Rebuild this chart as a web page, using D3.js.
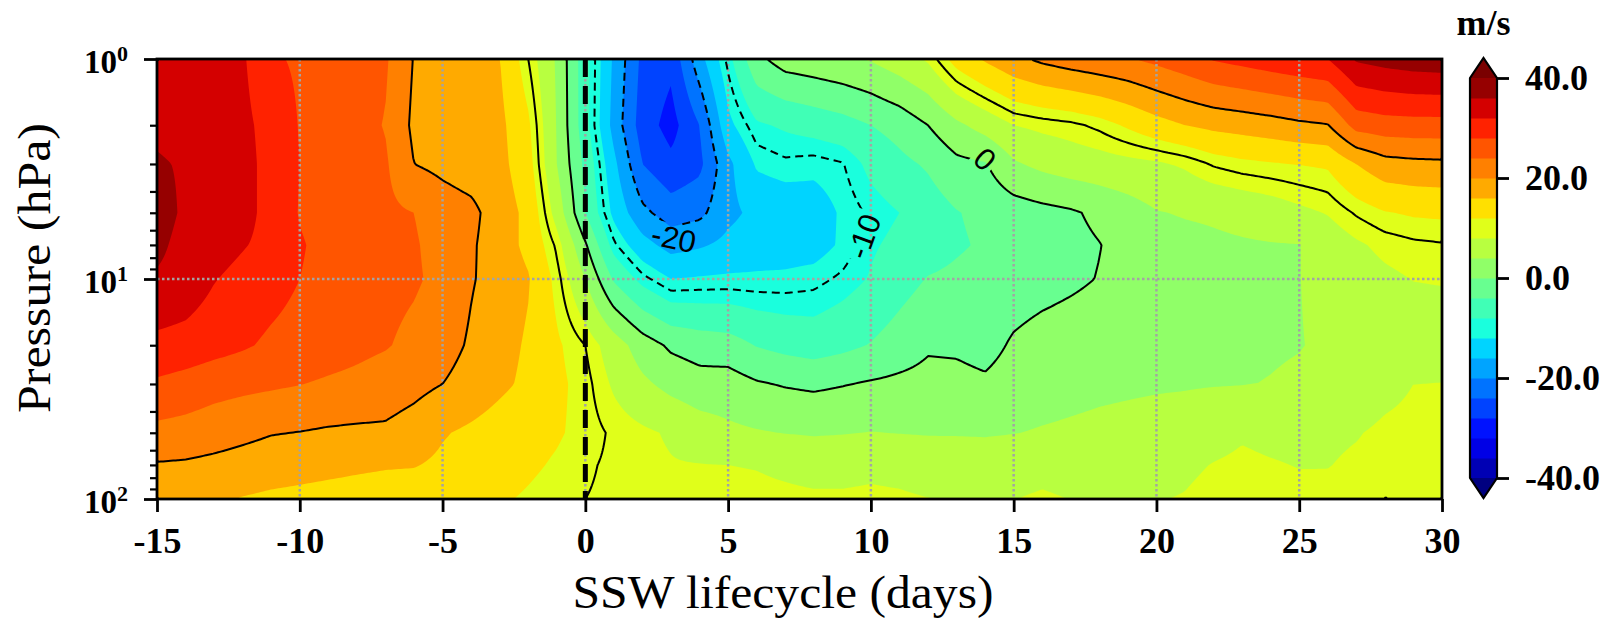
<!DOCTYPE html>
<html>
<head>
<meta charset="utf-8">
<script src="https://cdn.jsdelivr.net/npm/d3@7"></script>
<style>
  body { margin: 0; background: #fff; }
  svg { display: block; }
</style>
</head>
<body>
<svg id="chart" width="1612" height="622"></svg>
<script>
// zonal-mean zonal wind composite (m/s) over the SSW lifecycle

// grid: lag in days, pressure in hPa
var days = [-15,-14,-13,-12,-11,-10,-9,-8,-7,-6,-5,-4,-3,-2,-1,0,1,2,3,4,5,6,7,8,9,10,11,12,13,14,15,16,17,18,19,20,21,22,23,24,25,26,27,28,29,30];
var levels = [1, 2, 3, 5, 7, 10, 20, 30, 50, 70, 100];

// one row of wind values per pressure level
var u1   = [34.5,34,33.5,32.5,28.5,27.5,26.5,25.5,24.5,19.8, 18.8,17.6,16.1,10,3.5,-6.5,-16.7,-25,-27,-17.5, -9.2,-1.0,1.8,2.5,3.3,4.3,6.2,8.5,13.5,16.5, 19,20.8,22,22.9,23.7,25,26.5,28.3,29.3,30.3, 31.2,32,36.5,37.5,38.2,38.5];
var u2   = [35,34.5,34,33,30.5,27.8,26.5,25.3,23.8,19.2, 18.6,17.8,17,12.6,3.8,-6.5,-17.5,-26,-29.5,-24, -13,-8.5,-7.5,-6.5,-5.5,-4,-2.5,0,3.2,5.5, 8,8.8,9.4,10.6,12.5,14.5,16,17,17.6,18.3, 19.2,19.8,25.5,26.3,26.5,26.5];
var u3   = [36.5,35.5,34.8,33.5,30.5,28,26.5,25.5,24.5,20, 19,18,17.2,13.5,4,-5,-15,-24,-27,-25, -17,-11.5,-10.5,-11,-10.2,-7,-5,-3.5,-1,-0.3, 3.5,5,6,6.5,7,7.5,8.5,10.3,11.2,11.7, 12.1,12.5,16,18.5,19,19.2];
var u5   = [38,35.2,34.5,33.5,30.5,27.8,26.5,25.6,24.8,24, 22,21,18,15,6.5,-4,-13,-19,-22,-21, -17,-15,-14.5,-14,-11.5,-9.5,-8,-6,-4.2,-3, -2,-1.2,-0.5,0.8,2.2,3.8,4.3,4.6,5.2,6, 7.2,8.2,10.3,11.8,12.4,12.6];
var u7   = [37,34.5,33.7,32.3,30.8,28.3,27,26,25.2,24.4, 22.5,20.5,18,15,9.5,0.5,-9.5,-14.5,-17.5,-16.5, -15,-14,-13.8,-13.5,-11.5,-8.5,-7,-5.8,-4.5,-3.5, -2.8,-2,-1,-0.1,1.2,2.3,2.8,3.3,3.6,3.8, 3.9,5.8,7.5,8.8,9.5,9.8];
var u10  = [35.5,34.5,32.2,30.8,29.5,28,27,26,25.2,24.5, 23,20.3,18.5,16.3,11,4,-4.5,-9.2,-12,-11.6, -11.4,-11.4,-11.3,-10.8,-9.5,-7.7,-5.6,-3.8,-3.2,-2.6, -2,-1.4,-0.7,0.15,1.2,2.2,3,3.5,3.8,3.9, 3.95,4.8,6.3,7.3,8.1,8.3];
var u20  = [31,30.5,29.5,28.5,27.3,26.5,25.8,25,24.3,23, 21.5,19.5,17.5,15.5,12.5,10,6,2,-0.7,-1.8, -2.3,-4.2,-5.2,-5.9,-5,-3.8,-2.2,-0.5,-0.6,-1.3, 0.5,1.5,2,2.3,2.7,3,3.2,3.4,3.5,3.7, 3.9,4.4,5,5.3,5.5,5.5];
var u30  = [27.4,26.5,25.5,25,24.6,24.1,23.5,23,22.2,21.2, 20,18.5,16.8,15.2,12.8,10.8,7.5,4.8,2.8,1.6, 1.8,0.4,-0.3,-0.7,-0.2,0.4,0.9,1.3,1.1,0.6, 1.6,2.3,2.8,3.2,3.4,3.6,3.7,3.8,3.9,4.1, 4.4,5,5.8,7,8,8.1];
var u50  = [22.9,22.5,21.8,21,20.2,19.9,19.5,19.3,19.3,18.2, 16.3,15.3,14.2,13.3,12.4,11,9.6,8.6,7.6,6, 4.8,4.3,3.9,3.6,3.8,4.1,3.9,3.7,3.7,3.6, 3.9,4.3,4.6,4.9,5.2,5.5,5.8,7,7.7,7.3, 7.2,7.4,7.8,8.6,8.9,9];
var u70  = [19.7,19.5,19,18.4,17.8,17.4,17,16.6,16.3,16.2, 15.3,14.5,13.6,12.6,11.6,10.3,9.6,8.8,8.2,8.1, 8,7.9,7.6,7.3,7.3,7.5,7.3,6.9,6.6,6.5, 6.6,7,6.7,6.6,6.7,6.9,7.5,8.1,8.5,8.2, 7.9,7.9,8.5,9,9.2,9.3];
var u100 = [18.3,17.5,16.6,15.8,15.3,15,14.7,14.5,14.3,14, 13.6,13.1,12.4,11.6,10.7,10,9.6,9.3,9,8.8, 8.6,8.5,8.4,8.3,8.3,8.4,8.3,8.05,7.85,7.8, 7.95,8.4,7.95,7.8,7.8,7.9,8.15,8.8,9.2,9.2, 8.7,8.8,9.6,10.05,9.8,9.6];

// shading and contour settings
var shadeLevels = [-40,-36,-32,-28,-24,-20,-16,-12,-8,-4,0,4,8,12,16,20,24,28,32,36,40];
var shadeColors = ["#000080","#0000b4","#0000e6","#0012ff","#0043ff","#0073ff","#00a4ff","#00d4ff",
                   "#1affdd","#40ffb6","#68ff90","#90ff68","#b8ff40","#e0ff1a","#ffe000","#ffaa00",
                   "#ff8000","#ff5500","#ff2200","#d40000","#960000","#7a0000"];
var lineLevels = [-20, -10, 0, 10, 20];
var lineLabels = [
  { text: "0",   day: 14.0, p: 2.85, angle: 43 },
  { text: "-10", day: 9.75, p: 6.4,  angle: -70 },
  { text: "-20", day: 3.1,  p: 6.5,  angle: 12 }
];
var onsetDay = 0;

var xTicks = [-15, -10, -5, 0, 5, 10, 15, 20, 25, 30];
var yTicks = [1, 10, 100];
var yTickExp = ["0", "1", "2"];
var yMinorTicks = [2,3,4,5,6,7,8,9,20,30,40,50,60,70,80,90];
var cbTicks = [-40, -20, 0, 20, 40];
var cbUnits = "m/s";
var xTitle = "SSW lifecycle (days)";
var yTitle = "Pressure (hPa)";

var rows = [u1, u2, u3, u5, u7, u10, u20, u30, u50, u70, u100];

var svg = d3.select("#chart");
var plot = { left: 157, right: 1442, top: 59, bottom: 499 };
var serif = '"Liberation Serif", "Times New Roman", Times, serif';

var x = d3.scaleLinear().domain([days[0], days[days.length - 1]]).range([plot.left, plot.right]);
var y = d3.scaleLog().domain([levels[0], levels[levels.length - 1]]).range([plot.top, plot.bottom]);

// bilinear lookup in (day, log p)
var logLev = levels.map(Math.log10);
function windAt(day, lp) {
  var fi = (day - days[0]) / (days[1] - days[0]);
  var i0 = Math.max(0, Math.min(days.length - 2, Math.floor(fi)));
  var tx = Math.max(0, Math.min(1, fi - i0));
  var j0 = Math.max(0, Math.min(levels.length - 2, d3.bisectRight(logLev, lp) - 1));
  var ty = Math.max(0, Math.min(1, (lp - logLev[j0]) / (logLev[j0 + 1] - logLev[j0])));
  var a = rows[j0], b = rows[j0 + 1];
  var top = a[i0] * (1 - tx) + a[i0 + 1] * tx;
  var bot = b[i0] * (1 - tx) + b[i0 + 1] * tx;
  return top * (1 - ty) + bot * ty;
}

// resample onto a fine pixel grid so d3.contours can do the work
var step = 2.5;
var nx = Math.round((plot.right - plot.left) / step);
var ny = Math.round((plot.bottom - plot.top) / step);
var sx = (plot.right - plot.left) / nx, sy = (plot.bottom - plot.top) / ny;
var grid = new Float64Array(nx * ny);
for (var j = 0; j < ny; j++) {
  var lp = Math.log10(y.invert(plot.top + (j + 0.5) * sy));
  for (var i = 0; i < nx; i++) {
    grid[j * nx + i] = windAt(x.invert(plot.left + (i + 0.5) * sx), lp);
  }
}

var toScreen = d3.geoTransform({
  point: function(px, py) { this.stream.point(plot.left + px * sx, plot.top + py * sy); }
});
var path = d3.geoPath(toScreen);

var defs = svg.append("defs");
defs.append("clipPath").attr("id", "plot-clip")
  .append("rect")
    .attr("x", plot.left).attr("y", plot.top)
    .attr("width", plot.right - plot.left).attr("height", plot.bottom - plot.top);

var g = svg.append("g").attr("clip-path", "url(#plot-clip)");

// filled contours
g.append("rect")
  .attr("x", plot.left).attr("y", plot.top)
  .attr("width", plot.right - plot.left).attr("height", plot.bottom - plot.top)
  .attr("fill", shadeColors[0]);

var fills = d3.contours().size([nx, ny]).thresholds(shadeLevels)(grid);
g.selectAll("path.fill")
  .data(fills)
  .enter().append("path")
    .attr("class", "fill")
    .attr("d", path)
    .attr("fill", function(d, i) { return shadeColors[i + 1]; });

// dotted grid
var gridStyle = function(sel) {
  sel.attr("stroke", "#a4a4a4").attr("stroke-width", 2.5).attr("stroke-dasharray", "2.5,2.5");
};
g.selectAll("line.vgrid")
  .data(xTicks.slice(1, -1))
  .enter().append("line")
    .attr("class", "vgrid")
    .attr("x1", function(d) { return x(d); }).attr("x2", function(d) { return x(d); })
    .attr("y1", plot.top).attr("y2", plot.bottom)
    .call(gridStyle);
g.selectAll("line.hgrid")
  .data(yTicks.slice(1, -1))
  .enter().append("line")
    .attr("class", "hgrid")
    .attr("y1", function(d) { return y(d); }).attr("y2", function(d) { return y(d); })
    .attr("x1", plot.left).attr("x2", plot.right)
    .call(gridStyle);

// contour labels (and a mask to break the lines under them)
var mask = defs.append("mask").attr("id", "label-mask")
  .attr("maskUnits", "userSpaceOnUse").attr("x", 0).attr("y", 0).attr("width", 1612).attr("height", 622);
mask.append("rect").attr("width", 1612).attr("height", 622).attr("fill", "#fff");

var lineG = g.append("g").attr("mask", "url(#label-mask)");
var labelG = g.append("g");

var lines = d3.contours().size([nx, ny]).thresholds(lineLevels)(grid);
lineG.selectAll("path")
  .data(lines)
  .enter().append("path")
    .attr("d", path)
    .attr("fill", "none")
    .attr("stroke", "#000")
    .attr("stroke-width", 2)
    .attr("stroke-linejoin", "round")
    .attr("stroke-dasharray", function(d) { return d.value < 0 ? "8,5" : null; });

lineLabels.forEach(function(l) {
  var tr = "translate(" + x(l.day) + "," + y(l.p) + ") rotate(" + l.angle + ")";
  var t = labelG.append("text")
    .attr("transform", tr)
    .attr("text-anchor", "middle")
    .attr("dy", "0.36em")
    .style("font-family", '"Liberation Sans", Arial, Helvetica, sans-serif')
    .style("font-size", "31px")
    .text(l.text);
  var len = t.node().getComputedTextLength();
  mask.append("rect")
    .attr("transform", tr)
    .attr("x", -len / 2 - 3).attr("y", -14)
    .attr("width", len + 6).attr("height", 28)
    .attr("fill", "#000");
});

// SSW onset marker
g.append("line")
  .attr("x1", x(onsetDay)).attr("x2", x(onsetDay))
  .attr("y1", plot.top).attr("y2", plot.bottom)
  .attr("stroke", "#000").attr("stroke-width", 5)
  .attr("stroke-dasharray", "18,9");

// frame
svg.append("rect")
  .attr("x", plot.left).attr("y", plot.top)
  .attr("width", plot.right - plot.left).attr("height", plot.bottom - plot.top)
  .attr("fill", "none").attr("stroke", "#000").attr("stroke-width", 2.8);

// x axis
svg.append("g")
  .attr("transform", "translate(0," + plot.bottom + ")")
  .call(d3.axisBottom(x).tickValues(xTicks).tickSize(13).tickPadding(15)
          .tickFormat(function(d) { return String(d); }))
  .call(function(a) { a.select(".domain").remove(); })
  .call(function(a) { a.selectAll(".tick line").attr("stroke-width", 2.8); })
  .call(function(a) {
    a.selectAll(".tick text")
      .style("font-family", serif).style("font-weight", "bold").style("font-size", "36px");
  });

// y axis (log, with minor ticks)
var yAxisG = svg.append("g")
  .attr("transform", "translate(" + plot.left + ",0)")
  .call(d3.axisLeft(y).tickValues(yTicks).tickSize(13).tickFormat(""))
  .call(function(a) { a.select(".domain").remove(); })
  .call(function(a) { a.selectAll(".tick line").attr("stroke-width", 2.8); });

yAxisG.selectAll(".tick").each(function(d, i) {
  var t = d3.select(this).append("text")
    .attr("x", -29).attr("y", 13)
    .attr("text-anchor", "end")
    .attr("fill", "#000")
    .style("font-family", serif).style("font-weight", "bold");
  t.append("tspan").style("font-size", "33px").text("10");
  t.append("tspan").attr("dy", -12).style("font-size", "22px").text(yTickExp[i]);
});

svg.append("g")
  .attr("transform", "translate(" + plot.left + ",0)")
  .call(d3.axisLeft(y).tickValues(yMinorTicks).tickSize(7).tickFormat(""))
  .call(function(a) { a.select(".domain").remove(); })
  .call(function(a) { a.selectAll(".tick line").attr("stroke-width", 2.2); });

// axis titles
svg.append("text")
  .attr("x", 783).attr("y", 608)
  .attr("text-anchor", "middle")
  .attr("textLength", 421).attr("lengthAdjust", "spacingAndGlyphs")
  .style("font-family", serif).style("font-size", "46px")
  .text(xTitle);

svg.append("text")
  .attr("transform", "translate(50,268) rotate(-90)")
  .attr("text-anchor", "middle")
  .attr("textLength", 290).attr("lengthAdjust", "spacingAndGlyphs")
  .style("font-family", serif).style("font-size", "46px")
  .text(yTitle);

// colour bar
var cb = { left: 1470, right: 1497, top: 78, bottom: 478, tip: 20 };
var cbScale = d3.scaleLinear()
  .domain([shadeLevels[0], shadeLevels[shadeLevels.length - 1]])
  .range([cb.bottom, cb.top]);
var cbMid = (cb.left + cb.right) / 2;

var cbG = svg.append("g");
cbG.selectAll("rect.band")
  .data(d3.pairs(shadeLevels))
  .enter().append("rect")
    .attr("class", "band")
    .attr("x", cb.left).attr("width", cb.right - cb.left)
    .attr("y", function(d) { return cbScale(d[1]); })
    .attr("height", function(d) { return cbScale(d[0]) - cbScale(d[1]) + 0.5; })
    .attr("fill", function(d, i) { return shadeColors[i + 1]; });

cbG.append("path")
  .attr("d", "M" + cb.left + "," + cb.top + "L" + cbMid + "," + (cb.top - cb.tip) + "L" + cb.right + "," + cb.top + "Z")
  .attr("fill", shadeColors[shadeColors.length - 1]);
cbG.append("path")
  .attr("d", "M" + cb.left + "," + cb.bottom + "L" + cbMid + "," + (cb.bottom + cb.tip) + "L" + cb.right + "," + cb.bottom + "Z")
  .attr("fill", shadeColors[0]);
cbG.append("path")
  .attr("d", "M" + cb.left + "," + cb.top + "L" + cbMid + "," + (cb.top - cb.tip) + "L" + cb.right + "," + cb.top +
             "L" + cb.right + "," + cb.bottom + "L" + cbMid + "," + (cb.bottom + cb.tip) + "L" + cb.left + "," + cb.bottom + "Z")
  .attr("fill", "none").attr("stroke", "#000").attr("stroke-width", 2.2);

svg.append("g")
  .attr("transform", "translate(" + cb.right + ",0)")
  .call(d3.axisRight(cbScale).tickValues(cbTicks).tickSize(12).tickPadding(16)
          .tickFormat(function(d) { return d.toFixed(1); }))
  .call(function(a) { a.select(".domain").remove(); })
  .call(function(a) { a.selectAll(".tick line").attr("stroke-width", 2.8); })
  .call(function(a) {
    a.selectAll(".tick text")
      .style("font-family", serif).style("font-weight", "bold").style("font-size", "36px");
  });

svg.append("text")
  .attr("x", cbMid).attr("y", 35)
  .attr("text-anchor", "middle")
  .style("font-family", serif).style("font-weight", "bold").style("font-size", "36px")
  .text(cbUnits);
</script>
</body>
</html>
